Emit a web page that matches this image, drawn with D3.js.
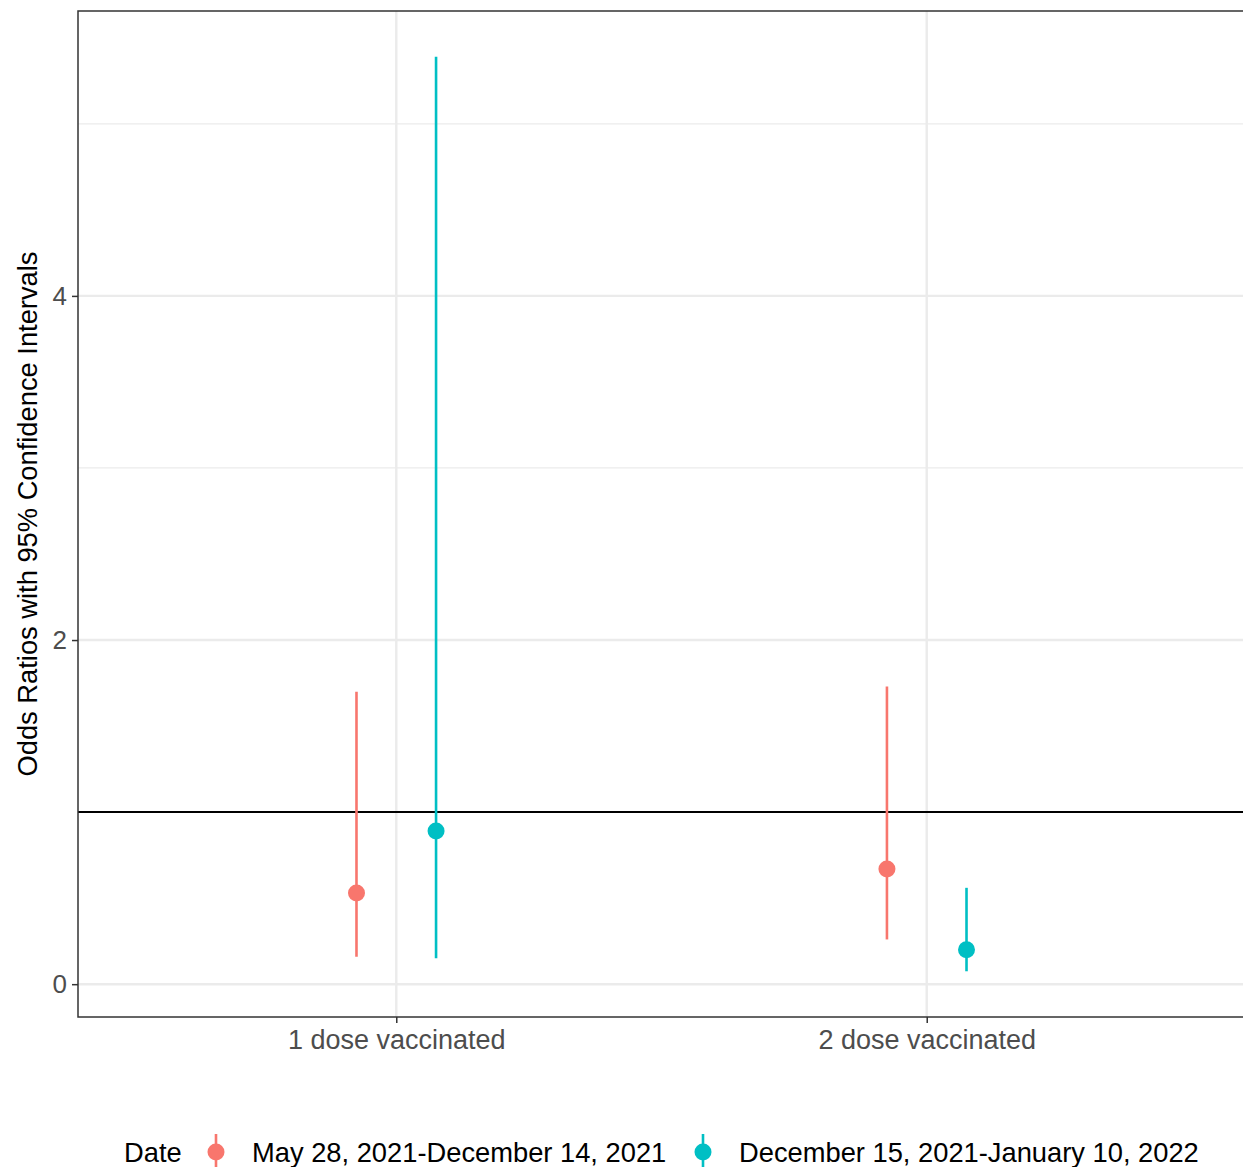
<!DOCTYPE html>
<html>
<head>
<meta charset="utf-8">
<script src="https://cdn.jsdelivr.net/npm/d3@7"></script>
<style>
  body { margin: 0; background: #fff; }
  text { font-family: "Liberation Sans", Arial, sans-serif; }
</style>
</head>
<body>
<div id="chart"></div>
<script>
// Data
const categories = ["1 dose vaccinated", "2 dose vaccinated"];
const periods = ["May 28, 2021-December 14, 2021", "December 15, 2021-January 10, 2022"];
const periodColors = ["#F8766D", "#00BFC4"];
const oddsRatio = [[0.53, 0.89], [0.67, 0.20]];
const lowerCI = [[0.16, 0.15], [0.26, 0.075]];
const upperCI = [[1.70, 5.39], [1.73, 0.56]];
const yTicks = [0, 2, 4];
const yMinor = [1, 3, 5];
const refLine = 1;

const W = 1243, H = 1167;
const panel = { left: 78, top: 11, right: 1245, bottom: 1017 };

const svg = d3.select("#chart").append("svg")
  .attr("width", W).attr("height", H);

// build rows
const rows = [];
categories.forEach((c, i) => {
  periods.forEach((p, j) => {
    rows.push({ cat: i + 1, group: j, or: oddsRatio[i][j], lo: lowerCI[i][j], hi: upperCI[i][j] });
  });
});

// ggplot-like expansion
const yMin = d3.min(rows, d => d.lo), yMax = d3.max(rows, d => d.hi);
const pad = (yMax - yMin) * 0.05;
const y = d3.scaleLinear().domain([yMin - pad, yMax + pad]).range([panel.bottom, panel.top]);
const x = d3.scaleLinear().domain([0.4, categories.length + 0.6]).range([panel.left, panel.right]);
const dodge = 0.075;

svg.append("clipPath").attr("id", "clip").append("rect")
  .attr("x", panel.left).attr("y", panel.top)
  .attr("width", panel.right - panel.left).attr("height", panel.bottom - panel.top);

const g = svg.append("g").attr("clip-path", "url(#clip)");

// grid
g.selectAll(".minor").data(yMinor).enter().append("line")
  .attr("x1", panel.left).attr("x2", panel.right)
  .attr("y1", d => y(d)).attr("y2", d => y(d))
  .attr("stroke", "#EBEBEB").attr("stroke-width", 1.2);
g.selectAll(".major").data(yTicks).enter().append("line")
  .attr("x1", panel.left).attr("x2", panel.right)
  .attr("y1", d => y(d)).attr("y2", d => y(d))
  .attr("stroke", "#EBEBEB").attr("stroke-width", 2.4);
g.selectAll(".vmajor").data(categories).enter().append("line")
  .attr("x1", (d, i) => x(i + 1)).attr("x2", (d, i) => x(i + 1))
  .attr("y1", panel.top).attr("y2", panel.bottom)
  .attr("stroke", "#EBEBEB").attr("stroke-width", 2.4);

// reference line
g.append("line")
  .attr("x1", panel.left).attr("x2", panel.right)
  .attr("y1", y(refLine)).attr("y2", y(refLine))
  .attr("stroke", "#000").attr("stroke-width", 2);

// error bars and points
const px = d => x(d.cat + (d.group === 0 ? -dodge : dodge));
g.selectAll(".ci").data(rows).enter().append("line")
  .attr("x1", px).attr("x2", px)
  .attr("y1", d => y(d.lo)).attr("y2", d => y(d.hi))
  .attr("stroke", d => periodColors[d.group]).attr("stroke-width", 2.6);
g.selectAll(".pt").data(rows).enter().append("circle")
  .attr("cx", px).attr("cy", d => y(d.or)).attr("r", 8.5)
  .attr("fill", d => periodColors[d.group]);

// panel border
svg.append("rect")
  .attr("x", panel.left).attr("y", panel.top)
  .attr("width", panel.right - panel.left).attr("height", panel.bottom - panel.top)
  .attr("fill", "none").attr("stroke", "#333").attr("stroke-width", 1.5);

// y axis
const yAxis = svg.append("g").attr("transform", `translate(${panel.left},0)`)
  .call(d3.axisLeft(y).tickValues(yTicks).tickSize(6).tickPadding(5).tickFormat(d3.format("d")));
yAxis.select(".domain").remove();
yAxis.selectAll(".tick line").attr("stroke", "#333").attr("stroke-width", 1.5);
yAxis.selectAll(".tick text").attr("fill", "#4D4D4D").style("font-size", "26px")
  .style("font-family", "'Liberation Sans', Arial, sans-serif");

// x axis
const xAxis = svg.append("g").attr("transform", `translate(0,${panel.bottom})`)
  .call(d3.axisBottom(x).tickValues(categories.map((c, i) => i + 1)).tickSize(6).tickPadding(7)
    .tickFormat(d => categories[d - 1]));
xAxis.select(".domain").remove();
xAxis.selectAll(".tick line").attr("stroke", "#333").attr("stroke-width", 1.5);
xAxis.selectAll(".tick text").attr("fill", "#4D4D4D").style("font-size", "27px")
  .style("font-family", "'Liberation Sans', Arial, sans-serif");

// y title
svg.append("text")
  .attr("transform", `translate(37,${(panel.top + panel.bottom) / 2}) rotate(-90)`)
  .attr("text-anchor", "middle")
  .style("font-size", "27.3px").attr("fill", "#000")
  .text("Odds Ratios with 95% Confidence Intervals");

// legend
const ly = 1152;
svg.append("text").attr("x", 124).attr("y", ly).attr("dy", "0.35em")
  .style("font-size", "27.3px").text("Date");
const keyX = [216, 703];
const legend = svg.selectAll(".leg").data(periods).enter().append("g");
legend.append("line")
  .attr("x1", (d, i) => keyX[i]).attr("x2", (d, i) => keyX[i])
  .attr("y1", ly - 18).attr("y2", ly + 16)
  .attr("stroke", (d, i) => periodColors[i]).attr("stroke-width", 2.6);
legend.append("circle")
  .attr("cx", (d, i) => keyX[i]).attr("cy", ly).attr("r", 8.5)
  .attr("fill", (d, i) => periodColors[i]);
legend.append("text")
  .attr("x", (d, i) => keyX[i] + 36).attr("y", ly).attr("dy", "0.35em")
  .style("font-size", "27.3px").text(d => d);
</script>
</body>
</html>
